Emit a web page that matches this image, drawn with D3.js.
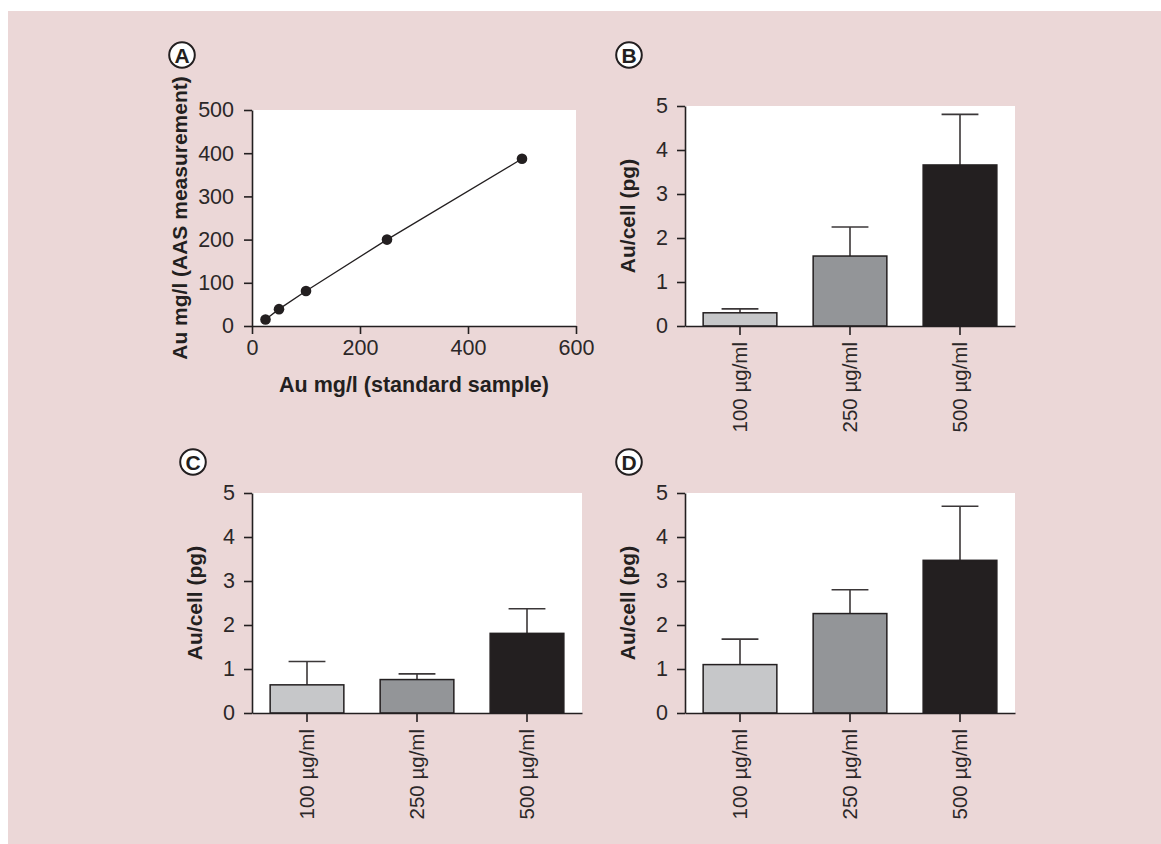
<!DOCTYPE html>
<html>
<head>
<meta charset="utf-8">
<script src="https://cdn.jsdelivr.net/npm/d3@7"></script>
<style>
  body { margin: 0; background: #fff; }
  svg text { font-family: "Liberation Sans", Arial, sans-serif; fill: #231f20; }
  .axis path, .axis line { stroke: #231f20; stroke-width: 1.6px; }
  .axis text { font-size: 21.5px; fill: #2b2728; }
</style>
</head>
<body>
<svg id="chart" width="1161" height="844"></svg>
<script>
// --- data ---
const stdSample = [25, 50, 100, 250, 500];
const aasMeasured = [15, 39, 81, 200, 387];
const scatterXTicks = [0, 200, 400, 600];
const scatterYTicks = [0, 100, 200, 300, 400, 500];

const categories = ["100 µg/ml", "250 µg/ml", "500 µg/ml"];
const barColors = ["#c6c7c9", "#939598", "#231f20"];
const barYTicks = [0, 1, 2, 3, 4, 5];

const meanB = [0.30, 1.59, 3.66];
const sdB = [0.09, 0.66, 1.15];
const meanC = [0.64, 0.76, 1.81];
const sdC = [0.53, 0.13, 0.56];
const meanD = [1.10, 2.26, 3.47];
const sdD = [0.58, 0.54, 1.23];

const svg = d3.select("#chart");
svg.append("rect").attr("x", 8).attr("y", 11).attr("width", 1153).attr("height", 833).attr("fill", "#ebd7d7");

function panelLetter(cx, cy, letter) {
    svg.append("circle").attr("cx", cx).attr("cy", cy).attr("r", 12.8)
        .attr("fill", "#fff").attr("stroke", "#231f20").attr("stroke-width", 2);
    svg.append("text").attr("x", cx).attr("y", cy).attr("dy", "0.37em")
        .attr("text-anchor", "middle").style("font-size", "21px").style("font-weight", "bold").text(letter);
}

function yLabel(x, y, txt) {
    svg.append("text").attr("transform", `translate(${x},${y}) rotate(-90)`)
        .attr("dy", "0.35em").attr("text-anchor", "middle")
        .style("font-size", "21px").style("font-weight", "bold").text(txt);
}

// --- panel A: scatter ---
const ax = d3.scaleLinear().domain([0, 600]).range([252, 576]);
const ay = d3.scaleLinear().domain([0, 500]).range([326, 110]);
svg.append("rect").attr("x", ax(0)).attr("y", ay(500)).attr("width", ax(600) - ax(0)).attr("height", ay(0) - ay(500)).attr("fill", "#fff");
svg.append("g").attr("class", "axis").attr("transform", `translate(0,${ay(0)})`)
    .call(d3.axisBottom(ax).tickValues(scatterXTicks).tickFormat(d3.format("d")).tickSize(8).tickSizeOuter(0).tickPadding(6));
svg.append("g").attr("class", "axis").attr("transform", `translate(${ax(0)},0)`)
    .call(d3.axisLeft(ay).tickValues(scatterYTicks).tickFormat(d3.format("d")).tickSize(8).tickSizeOuter(0).tickPadding(10));
const pts = stdSample.map((d, i) => [d, aasMeasured[i]]);
svg.append("path").datum(pts).attr("fill", "none").attr("stroke", "#231f20").attr("stroke-width", 1.3)
    .attr("d", d3.line().x(d => ax(d[0])).y(d => ay(d[1])));
svg.selectAll("circle.pt").data(pts).enter().append("circle").attr("class", "pt")
    .attr("cx", d => ax(d[0])).attr("cy", d => ay(d[1])).attr("r", 5.3).attr("fill", "#231f20");
yLabel(180, 218, "Au mg/l (AAS measurement)");
svg.append("text").attr("x", 414).attr("y", 392).attr("text-anchor", "middle")
    .style("font-size", "21.5px").style("font-weight", "bold").text("Au mg/l (standard sample)");
panelLetter(182, 55, "A");

// --- bar panels ---
function barPanel(left, right, top, bottom, means, sds, letter, lx, ly) {
    const x = d3.scaleBand().domain(categories).range([left, right]).paddingInner(0.33).paddingOuter(0.165);
    const y = d3.scaleLinear().domain([0, 5]).range([bottom, top]);
    svg.append("rect").attr("x", left).attr("y", top).attr("width", right - left).attr("height", bottom - top).attr("fill", "#fff");
    const g = svg.append("g");
    const rows = categories.map((c, i) => ({ c, m: means[i], s: sds[i], fill: barColors[i] }));
    // error bars (upper only)
    g.selectAll("line.err").data(rows).enter().append("line")
        .attr("x1", d => x(d.c) + x.bandwidth() / 2).attr("x2", d => x(d.c) + x.bandwidth() / 2)
        .attr("y1", d => y(d.m)).attr("y2", d => y(d.m + d.s))
        .attr("stroke", "#3b3738").attr("stroke-width", 1.6);
    g.selectAll("line.cap").data(rows).enter().append("line")
        .attr("x1", d => x(d.c) + x.bandwidth() / 4).attr("x2", d => x(d.c) + x.bandwidth() * 3 / 4)
        .attr("y1", d => y(d.m + d.s)).attr("y2", d => y(d.m + d.s))
        .attr("stroke", "#3b3738").attr("stroke-width", 1.6);
    g.selectAll("rect.bar").data(rows).enter().append("rect")
        .attr("x", d => x(d.c)).attr("width", x.bandwidth())
        .attr("y", d => y(d.m)).attr("height", d => y(0) - y(d.m))
        .attr("fill", d => d.fill).attr("stroke", "#231f20").attr("stroke-width", 1.5);
    svg.append("g").attr("class", "axis").attr("transform", `translate(${left},0)`)
        .call(d3.axisLeft(y).tickValues(barYTicks).tickFormat(d3.format("d")).tickSize(8).tickSizeOuter(0).tickPadding(9));
    const xa = svg.append("g").attr("class", "axis").attr("transform", `translate(0,${bottom})`)
        .call(d3.axisBottom(x).tickSize(9).tickSizeOuter(0).tickPadding(6));
    xa.selectAll("text").attr("transform", "rotate(-90)").attr("text-anchor", "end")
        .attr("x", -16).attr("y", 0).attr("dy", "0.35em").style("font-size", "20.5px");
    yLabel(left - 57, (top + bottom) / 2, "Au/cell (pg)");
    panelLetter(lx, ly, letter);
}

barPanel(685, 1015, 106, 326, meanB, sdB, "B", 629, 55);
barPanel(252, 582, 493, 713, meanC, sdC, "C", 193, 462);
barPanel(685, 1015, 493, 713, meanD, sdD, "D", 629, 462);
</script>
</body>
</html>
